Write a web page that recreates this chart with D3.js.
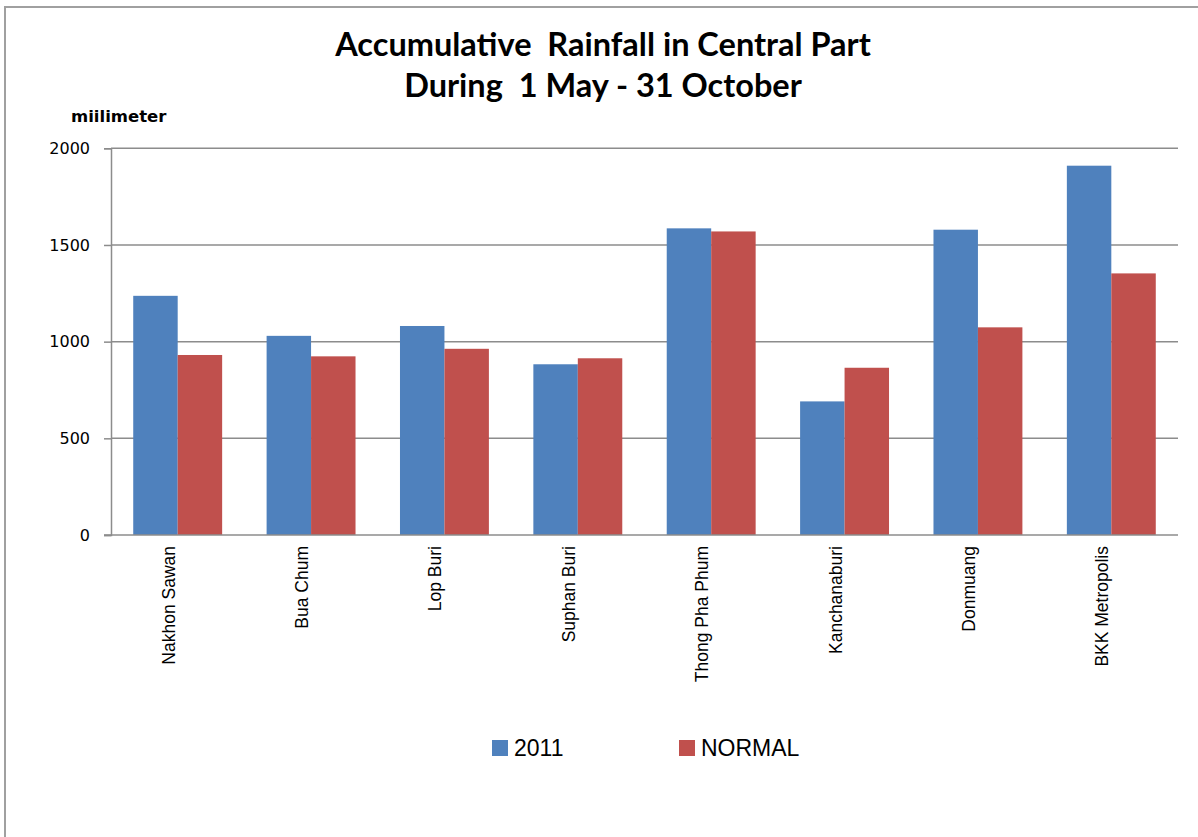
<!DOCTYPE html>
<html>
<head>
<meta charset="utf-8">
<script src="https://cdn.jsdelivr.net/npm/d3@7"></script>
<style>
  body { margin: 0; background: #fff; }
  text { white-space: pre; }
</style>
</head>
<body>
<div id="chart"></div>
<script>
// data
var categories = ["Nakhon Sawan", "Bua Chum", "Lop Buri", "Suphan Buri",
                  "Thong Pha Phum", "Kanchanaburi", "Donmuang", "BKK Metropolis"];
var seriesNames = ["2011", "NORMAL"];
var rain2011   = [1237, 1030, 1081, 883, 1586, 691, 1579, 1910];
var rainNormal = [931, 924, 963, 914, 1570, 865, 1074, 1353];
var yTicks = [0, 500, 1000, 1500, 2000];

var colors = ["#4F81BD", "#C0504D"];

var W = 1198, H = 837;
var plotLeft = 111, plotRight = 1178, plotTop = 148.3, plotBottom = 535;

var svg = d3.select("#chart")
    .append("svg")
    .attr("width", W)
    .attr("height", H);

svg.append("rect")
  .attr("width", W).attr("height", H)
  .attr("fill", "#fff");

// outer frame (right & bottom run off the picture)
svg.append("rect")
  .attr("x", 5).attr("y", 7)
  .attr("width", W + 20).attr("height", H + 20)
  .attr("fill", "none")
  .attr("stroke", "#a0a0a0")
  .attr("stroke-width", 2);

// title
var title = svg.append("text")
  .attr("text-anchor", "middle")
  .style("font-family", "Lato, 'Open Sans', sans-serif")
  .style("font-weight", "bold")
  .style("font-size", "32.5px")
  .attr("fill", "#000");
title.append("tspan").attr("x", 603).attr("y", 56).text("Accumulative  Rainfall in Central Part");
title.append("tspan").attr("x", 603).attr("y", 97).text("During  1 May - 31 October");

// y axis label
svg.append("text")
  .attr("x", 71).attr("y", 122)
  .style("font-family", "'DejaVu Sans', sans-serif")
  .style("font-weight", "bold")
  .style("font-size", "16.5px")
  .text("miilimeter");

// scales
var x0 = d3.scaleBand()
  .domain(categories)
  .range([plotLeft, plotRight])
  .paddingInner(1 / 3)
  .paddingOuter(1 / 6);

var x1 = d3.scaleBand()
  .domain(seriesNames)
  .range([0, x0.bandwidth()]);

var y = d3.scaleLinear()
  .domain([0, 2000])
  .range([plotBottom, plotTop]);

// gridlines
svg.append("g")
  .selectAll("line")
  .data(yTicks.filter(d => d > 0))
  .enter()
  .append("line")
  .attr("x1", plotLeft).attr("x2", plotRight)
  .attr("y1", d => y(d)).attr("y2", d => y(d))
  .attr("stroke", "#8c8c8c")
  .attr("stroke-width", 1.5);

// y axis
var yAxis = svg.append("g")
  .attr("transform", "translate(" + plotLeft + ",0)")
  .call(d3.axisLeft(y).tickValues(yTicks).tickFormat(d3.format("d")).tickSize(7).tickPadding(14));
yAxis.select(".domain").attr("stroke", "#8c8c8c").attr("stroke-width", 1.5);
yAxis.selectAll(".tick line").attr("stroke", "#8c8c8c").attr("stroke-width", 1.5);
yAxis.selectAll(".tick text")
  .style("font-family", "'DejaVu Sans', sans-serif")
  .style("font-size", "16px")
  .attr("fill", "#000");

// bars
var rows = categories.map((c, i) => ({cat: c, values: [rain2011[i], rainNormal[i]]}));

var groups = svg.selectAll("g.cat")
  .data(rows)
  .enter()
  .append("g")
  .attr("class", "cat")
  .attr("transform", d => "translate(" + x0(d.cat) + ",0)");

groups.selectAll("rect")
  .data(d => d.values.map((v, j) => ({name: seriesNames[j], v: v, j: j})))
  .enter()
  .append("rect")
  .attr("x", d => x1(d.name))
  .attr("y", d => y(d.v))
  .attr("width", x1.bandwidth())
  .attr("height", d => y(0) - y(d.v))
  .attr("fill", d => colors[d.j]);

// x axis line
svg.append("line")
  .attr("x1", plotLeft - 7).attr("x2", plotRight)
  .attr("y1", plotBottom).attr("y2", plotBottom)
  .attr("stroke", "#8c8c8c")
  .attr("stroke-width", 1.5);

// category labels, rotated
svg.append("g")
  .selectAll("text")
  .data(categories)
  .enter()
  .append("text")
  .attr("transform", d => "translate(" + (x0(d) + x0.bandwidth() / 2 - 3) + ",546) rotate(-90)")
  .attr("text-anchor", "end")
  .style("font-family", "'Liberation Sans', Arial, sans-serif")
  .style("font-size", "17.5px")
  .text(d => d);

// legend
var legendX = [492, 679];
var legend = svg.selectAll("g.legend")
  .data(seriesNames)
  .enter()
  .append("g")
  .attr("class", "legend")
  .attr("transform", (d, i) => "translate(" + legendX[i] + ",740)");

legend.append("rect")
  .attr("width", 16).attr("height", 16)
  .attr("fill", (d, i) => colors[i]);

legend.append("text")
  .attr("x", 22).attr("y", 16)
  .style("font-family", "'Liberation Sans', Arial, sans-serif")
  .style("font-size", "23px")
  .text(d => d);
</script>
</body>
</html>
